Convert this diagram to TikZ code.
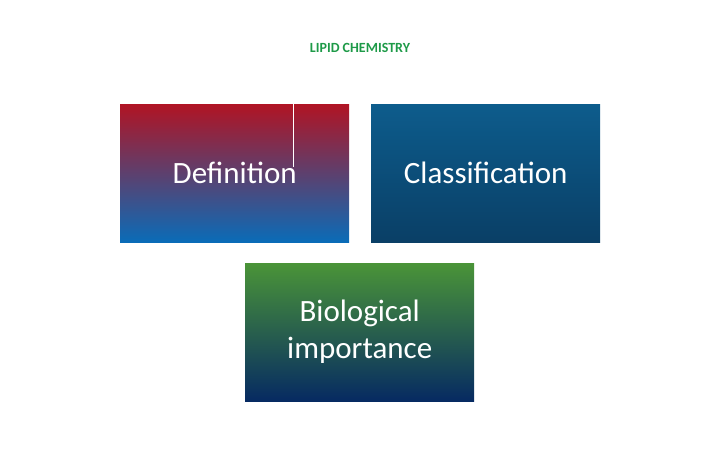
\documentclass[tikz,border=0pt]{standalone}
\usepackage{fontspec}
\setmainfont{Carlito}
\definecolor{tgreen}{HTML}{1E9A48}
\definecolor{dred}{HTML}{B01424}
\definecolor{dblue}{HTML}{0A6CB8}
\definecolor{ctop}{HTML}{0D5C8C}
\definecolor{cbot}{HTML}{0A3F66}
\definecolor{gtop}{HTML}{4A9438}
\definecolor{gbot}{HTML}{062A62}
\tikzset{box/.style={minimum width=229pt,minimum height=138pt,inner sep=0pt,text=white,font=\fontsize{31}{37}\selectfont,align=center}}
\begin{document}
\begin{tikzpicture}[x=1pt,y=1pt]
\useasboundingbox (0,0) rectangle (720,450);
\node[font=\bfseries\fontsize{14}{16}\selectfont,text=tgreen] (title) at (360,402) {LIPID CHEMISTRY};
\node[box,top color=dred,bottom color=dblue,anchor=north west] (def) at (120,346) {};
\draw[white,line width=1pt] (293,346) -- (293,283);
\node[text=white,font=\fontsize{31}{37}\selectfont] (deft) at (def.center) {Definition};
\node[box,top color=ctop,bottom color=cbot,anchor=north west] (cls) at (371,346) {Classification};
\node[box,top color=gtop,bottom color=gbot,anchor=north west] (bio) at (245,187) {Biological\\importance};
\end{tikzpicture}
\end{document}
